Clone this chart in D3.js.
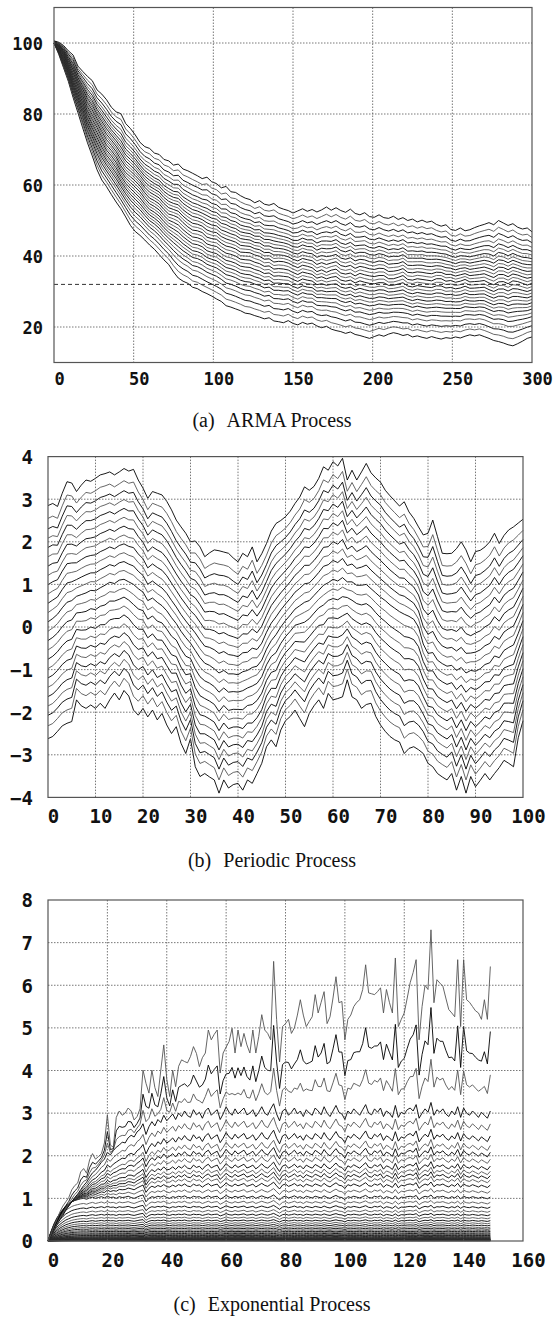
<!DOCTYPE html>
<html>
<head>
<meta charset="utf-8">
<script src="https://cdn.jsdelivr.net/npm/d3@7"></script>
<style>body{margin:0;background:#fff}</style>
</head>
<body>
<svg width="555" height="1318"></svg>
<script>
// Three quantile fans. For each process a few guide lines were traced off the
// picture (outer envelopes and a middle / inner line); the other fan lines sit
// between those guides at the fractions listed in the *Levels / *Pos arrays.

// ---- (a) ARMA process, traced every 3 steps
const armaX = d3.range(0, 301, 3);
const armaUpper = [
  100.6,100.2,99.3,97.8,96.6,93.5,92.0,90.6,89.4,86.8,
  85.6,84.0,81.9,80.6,80.1,77.3,75.9,74.1,72.0,70.8,
  70.3,69.0,68.6,67.2,66.8,65.6,65.9,64.5,64.0,63.3,
  62.6,61.8,62.2,60.9,60.4,59.2,59.6,58.1,57.9,57.0,
  56.3,55.9,55.0,55.6,54.6,54.3,54.8,53.7,53.2,52.8,
  52.1,52.7,53.3,52.6,53.1,52.4,53.0,53.8,52.9,53.6,
  52.8,52.3,53.2,52.0,51.6,52.2,51.1,50.9,51.6,50.8,
  50.6,51.2,50.3,50.8,50.0,50.4,49.6,50.1,49.5,49.8,
  48.9,48.4,48.8,47.5,47.2,47.9,47.1,47.4,48.0,48.5,
  48.9,49.4,48.8,50.0,49.3,48.6,49.1,48.1,47.6,47.9,
  46.8];
const armaMid = [
  100.0,98.6,96.6,93.5,90.2,87.3,84.3,80.9,78.5,76.2,
  73.6,71.2,69.7,67.9,65.4,63.5,62.3,61.1,59.7,57.8,
  56.3,55.6,54.7,53.1,51.8,51.4,50.8,49.4,48.2,47.3,
  47.1,46.6,45.3,44.9,44.7,43.6,42.8,42.5,42.0,41.1,
  41.0,40.9,40.3,39.9,39.1,39.2,38.3,38.5,38.4,38.0,
  37.3,36.7,37.4,37.1,36.7,35.6,36.1,35.4,36.0,36.3,
  35.2,34.9,35.2,34.4,35.1,34.7,34.4,34.2,34.5,34.5,
  33.6,33.6,34.0,34.5,33.4,33.2,33.6,33.4,33.2,33.0,
  33.6,33.6,32.9,33.1,32.6,32.9,33.4,32.7,32.8,32.9,
  33.1,32.4,31.9,32.7,32.8,32.2,33.0,32.8,32.3,31.8,
  32.3];
const armaLower = [
  100.0,96.8,93.0,89.2,84.6,80.4,76.1,71.9,68.2,64.3,
  61.4,59.5,57.3,55.2,53.3,51.0,48.6,46.9,45.8,44.5,
  43.1,41.9,40.4,38.9,37.6,35.5,33.8,32.9,32.3,31.2,
  30.8,30.0,29.4,28.7,27.9,27.2,26.0,25.6,25.1,24.6,
  23.9,23.7,23.2,22.8,22.3,22.6,21.7,21.5,21.2,21.8,
  21.0,20.6,21.3,20.8,21.1,20.3,19.8,20.2,19.4,19.0,
  18.7,18.2,18.6,17.9,17.6,17.2,16.8,17.3,17.8,17.4,
  18.0,18.4,18.1,17.6,17.9,17.2,17.5,17.1,16.8,17.3,
  16.9,16.6,17.0,16.8,17.2,16.9,17.4,17.8,17.5,17.8,
  17.3,16.8,16.2,15.9,15.5,15.0,14.7,15.3,16.0,16.8,
  17.2];
// -1 = lower guide, 0 = middle guide, 1 = upper guide
const armaLevels = [-1,-0.89,-0.79,-0.7,-0.62,-0.55,-0.48,-0.42,-0.36,-0.3,-0.24,-0.18,-0.12,-0.06,
  0,0.06,0.12,0.18,0.24,0.3,0.36,0.42,0.48,0.55,0.62,0.7,0.79,0.89,1];
const armaXTicks = [0,50,100,150,200,250,300];
const armaYTicks = [20,40,60,80,100];
const armaRefLevel = 32;

// ---- (b) periodic process, every step
const periodicX = d3.range(0, 101);
const periodicUpper = [
  2.85,2.9,2.83,3.14,3.41,3.38,3.18,3.33,3.45,3.42,
  3.49,3.57,3.6,3.64,3.57,3.64,3.72,3.66,3.7,3.45,
  3.26,3.02,3.18,3.14,3.1,2.95,2.75,2.51,2.35,2.2,
  2.0,2.02,1.88,1.65,1.74,1.81,1.79,1.76,1.73,1.62,
  1.53,1.73,1.65,1.88,1.53,1.72,1.96,2.25,2.43,2.5,
  2.59,2.72,2.9,3.05,3.29,3.21,3.3,3.49,3.76,3.68,
  3.88,3.78,3.96,3.45,3.68,3.45,3.64,3.84,3.62,3.5,
  3.4,3.21,3.08,2.96,2.84,2.94,2.7,2.55,2.35,2.16,
  2.2,2.51,2.12,1.73,1.72,1.73,1.84,2.0,1.81,1.53,
  1.77,1.8,1.88,2.0,2.2,1.96,2.15,2.28,2.35,2.44,
  2.53];
const periodicMid = [
  0.12,0.2,0.3,0.45,0.58,0.62,0.72,0.76,0.8,0.86,
  0.85,0.92,0.98,1.05,1.02,1.1,1.12,1.06,1.0,0.9,
  0.82,0.62,0.68,0.58,0.5,0.38,0.22,0.08,-0.1,-0.25,
  -0.38,-0.55,-0.72,-0.85,-0.9,-0.98,-1.08,-1.02,-1.1,-1.1,
  -1.12,-1.05,-1.02,-0.95,-0.92,-0.78,-0.52,-0.32,-0.18,0.0,
  0.15,0.28,0.42,0.5,0.58,0.62,0.74,0.86,0.98,1.04,
  1.12,1.08,1.16,1.06,1.06,0.98,0.98,1.0,0.9,0.8,
  0.7,0.62,0.52,0.44,0.36,0.3,0.25,0.18,0.0,-0.4,
  -0.62,-0.6,-0.78,-0.86,-0.92,-0.9,-1.02,-0.95,-1.08,-1.02,
  -1.04,-0.98,-0.88,-0.84,-0.68,-0.72,-0.55,-0.48,-0.42,-0.15,
  0.15];
const periodicLower = [
  -2.62,-2.57,-2.45,-2.32,-2.26,-2.22,-1.71,-1.85,-1.91,-1.83,
  -1.91,-1.79,-1.91,-1.71,-1.55,-1.71,-1.49,-1.62,-1.95,-2.07,
  -1.91,-2.11,-1.95,-2.18,-2.03,-2.3,-2.5,-2.34,-2.73,-2.97,
  -2.62,-3.28,-3.51,-3.44,-3.52,-3.59,-3.9,-3.59,-3.78,-3.7,
  -3.67,-3.83,-3.59,-3.67,-3.44,-3.2,-2.81,-2.65,-2.81,-2.42,
  -2.2,-2.1,-1.95,-2.15,-2.34,-2.03,-1.85,-1.71,-1.91,-1.56,
  -1.71,-1.68,-1.64,-1.24,-1.64,-1.71,-1.91,-1.82,-1.79,-2.1,
  -2.3,-2.45,-2.57,-2.65,-2.7,-2.97,-2.85,-2.81,-2.88,-2.97,
  -3.2,-3.28,-3.44,-3.52,-3.59,-3.44,-3.83,-3.51,-3.9,-3.51,
  -3.75,-3.6,-3.44,-3.59,-3.44,-3.3,-3.13,-3.2,-3.28,-2.6,
  -2.2];
const periodicLevels = [-1,-0.89,-0.8,-0.72,-0.64,-0.56,-0.48,-0.4,-0.32,-0.24,-0.16,-0.08,
  0,0.08,0.16,0.24,0.32,0.4,0.48,0.56,0.64,0.72,0.8,0.89,1];
const periodicXTicks = [0,10,20,30,40,50,60,70,80,90,100];
const periodicYTicks = [-4,-3,-2,-1,0,1,2,3,4];

// ---- (c) exponential process, every step
const expX = d3.range(0, 150);
const expTop = [
  0.0,0.15,0.35,0.5,0.68,0.82,0.92,1.02,1.2,1.3,
  1.36,1.62,1.7,1.59,1.9,2.05,1.92,1.98,2.05,2.3,
  2.96,2.25,2.2,2.9,3.05,2.95,3.0,3.12,3.05,2.84,
  2.92,3.1,4.01,3.7,3.47,4.01,3.6,3.39,4.01,4.6,
  3.8,3.39,4.01,3.62,4.1,4.25,4.21,4.18,4.33,4.56,
  4.4,4.09,4.3,4.41,4.95,4.72,4.85,4.95,3.94,4.41,
  4.55,4.68,4.99,4.41,4.95,4.56,4.87,4.6,4.41,4.95,
  4.41,4.8,5.31,4.95,4.87,4.72,6.56,5.2,4.2,5.03,
  5.1,5.2,4.87,5.0,5.3,5.66,5.3,5.03,5.15,5.26,
  5.78,5.35,5.6,5.85,5.1,5.26,5.7,6.2,5.59,5.62,
  4.72,5.2,5.3,5.5,5.6,5.66,5.9,6.48,5.82,5.8,
  5.78,5.85,5.94,5.35,5.9,5.6,5.35,6.64,5.03,5.2,
  5.35,5.7,6.06,6.3,6.6,4.72,5.5,6.0,5.9,7.3,
  5.59,6.13,6.05,5.98,5.7,5.43,5.35,5.26,6.6,5.03,
  6.6,5.66,5.6,5.5,5.4,5.35,5.2,5.66,5.2,6.44];
const expThree = [
  0,0.12,0.25,0.38,0.5,0.6,0.72,0.82,0.92,1.02,
  1.1,1.2,1.3,1.38,1.5,1.6,1.66,1.75,1.85,1.92,
  2.08,2.02,2.12,2.2,2.25,2.32,2.3,2.42,2.48,2.44,
  2.56,2.62,2.75,2.5,2.68,2.8,2.7,2.85,2.78,2.95,
  2.82,2.9,2.98,2.85,3.0,2.92,3.05,2.94,2.9,3.08,
  2.96,3.02,2.88,3.05,3.12,2.95,3.02,3.08,2.85,2.98,
  3.15,3.02,2.95,3.1,2.98,3.05,3.12,2.96,3.0,3.08,
  2.92,3.02,3.15,3.0,2.95,3.1,3.22,2.98,2.82,3.05,
  3.1,2.95,3.02,3.12,2.98,3.05,2.92,3.08,3.0,2.95,
  3.12,3.05,2.96,3.15,3.0,2.92,3.05,3.18,3.02,2.98,
  2.85,3.05,2.98,3.1,3.02,2.95,3.08,3.2,3.0,2.96,
  3.1,3.02,3.12,2.92,3.05,3.0,2.9,3.18,2.9,3.02,
  2.98,3.08,3.12,3.05,3.2,2.88,3.0,3.1,3.02,3.25,
  2.95,3.08,3.02,3.1,2.98,2.92,3.05,2.96,3.15,2.9,
  3.12,3.0,2.95,3.05,2.98,2.9,3.02,2.95,2.88,3.05];
const expOne = [
  0,0.22,0.4,0.54,0.65,0.74,0.82,0.87,0.92,0.95,
  0.97,0.99,1.0,0.98,1.01,1.03,1.0,1.02,1.04,1.01,
  1.05,1.02,1.03,1.0,1.04,1.02,1.03,1.05,1.02,1.0,
  1.03,1.06,1.08,0.92,1.0,1.04,1.02,1.05,1.03,1.06,
  1.02,1.0,1.04,1.02,1.05,1.03,1.06,1.02,1.01,1.05,
  1.03,1.04,1.0,1.03,1.06,1.02,1.04,1.05,0.98,1.02,
  1.07,1.03,1.01,1.05,1.02,1.04,1.06,1.01,1.03,1.05,
  1.0,1.03,1.06,1.03,1.01,1.04,1.08,1.02,0.96,1.03,
  1.05,1.01,1.03,1.06,1.02,1.04,1.0,1.05,1.03,1.01,
  1.05,1.03,1.01,1.06,1.02,1.0,1.04,1.07,1.03,1.02,
  0.97,1.04,1.02,1.05,1.03,1.01,1.04,1.07,1.02,1.01,
  1.05,1.03,1.06,0.99,1.04,1.02,0.99,1.06,0.98,1.03,
  1.02,1.04,1.05,1.03,1.07,0.97,1.02,1.05,1.03,1.08,
  1.0,1.04,1.03,1.05,1.02,1.0,1.04,1.01,1.06,0.99,
  1.05,1.02,1.01,1.04,1.02,1.0,1.03,1.01,0.99,1.03];
// 0..1 between zero and expOne, 1..2 between expOne and expThree, 2..3 up to expTop
const expPos = [0.004,0.007,0.01,0.013,0.016,0.019,0.022,0.025,0.028,0.032,0.036,0.041,0.047,
  0.053,0.06,0.068,0.078,0.088,0.1,0.114,0.129,0.147,0.167,0.19,0.216,0.245,0.279,0.316,
  0.36,0.409,0.464,0.528,0.6,0.681,0.774,0.88,1,1.07,1.14,1.2,1.25,1.3,1.36,1.44,1.52,
  1.6,1.71,1.85,2,2.25,2.55,3];
const expXTicks = [0,20,40,60,80,100,120,140,160];
const expYTicks = [0,1,2,3,4,5,6,7,8];

// ---------------------------------------------------------------------------
function fan(xs, lower, mid, upper, levels) {
  return levels.map(f => xs.map((x, i) =>
    [x, f < 0 ? mid[i] + (-f) * (lower[i] - mid[i]) : mid[i] + f * (upper[i] - mid[i])]));
}

function between(xs, guides, pos) {
  return pos.map(p => {
    const k = Math.min(Math.floor(p), guides.length - 2), t = p - k;
    return xs.map((x, i) => [x, guides[k][i] + t * (guides[k + 1][i] - guides[k][i])]);
  });
}

const svg = d3.select("svg");
const mono = "'DejaVu Sans Mono', 'Liberation Mono', monospace";

function drawPanel(p) {
  const x = d3.scaleLinear().domain(p.xDomain).range([p.left, p.right]);
  const y = d3.scaleLinear().domain(p.yDomain).range([p.bottom, p.top]);
  const g = svg.append("g");
  const line = d3.line().x(d => x(d[0])).y(d => y(d[1]));

  g.append("g")
    .attr("fill", "none")
    .attr("stroke-width", 0.9)
    .attr("stroke-linejoin", "round")
    .selectAll("path")
    .data(p.lines)
    .join("path")
    .attr("stroke", (d, i) => i % 2 ? "#555" : "#000")
    .attr("d", line);

  // dotted grid
  const inner = (t, dom) => t > dom[0] && t < dom[1];
  const grid = g.append("g")
    .attr("stroke", "#555")
    .attr("stroke-width", 0.8)
    .attr("stroke-dasharray", "1.5,1.5");
  grid.selectAll(".gx")
    .data(p.xTicks.filter(t => inner(t, p.xDomain)))
    .join("line")
    .attr("x1", d => x(d)).attr("x2", d => x(d))
    .attr("y1", p.top).attr("y2", p.bottom);
  grid.selectAll(".gy")
    .data(p.yTicks.filter(t => inner(t, p.yDomain)))
    .join("line")
    .attr("x1", p.left).attr("x2", p.right)
    .attr("y1", d => y(d)).attr("y2", d => y(d));

  if (p.refLevel != null) {
    g.append("line")
      .attr("x1", p.left).attr("x2", p.right)
      .attr("y1", y(p.refLevel)).attr("y2", y(p.refLevel))
      .attr("stroke", "#333")
      .attr("stroke-dasharray", "4,3");
  }

  g.append("rect")
    .attr("x", p.left).attr("y", p.top)
    .attr("width", p.right - p.left).attr("height", p.bottom - p.top)
    .attr("fill", "none")
    .attr("stroke", "#555")
    .attr("stroke-width", 1.2);

  const ax = g.append("g")
    .attr("transform", `translate(0,${p.xLabelY})`)
    .call(d3.axisBottom(x).tickValues(p.xTicks).tickSize(0).tickFormat(d3.format("d")));
  ax.select(".domain").remove();
  ax.selectAll("text").attr("y", 0).attr("dy", 0).attr("dx", p.xLabelDx);

  const ay = g.append("g")
    .attr("transform", `translate(${p.yLabelX},0)`)
    .call(d3.axisLeft(y).tickValues(p.yTicks).tickSize(0).tickPadding(0).tickFormat(d3.format("d")));
  ay.select(".domain").remove();
  ay.selectAll("text").attr("dy", "0.36em");

  [ax, ay].forEach(a => a
    .attr("font-family", mono)
    .attr("font-size", p.fontSize)
    .attr("font-weight", "bold")
    .selectAll("text").attr("fill", "#111"));

  const cap = svg.append("text")
    .attr("x", 272).attr("y", p.captionY)
    .attr("text-anchor", "middle")
    .attr("font-family", "'Liberation Serif', 'Times New Roman', serif")
    .attr("font-size", 20)
    .attr("fill", "#111");
  cap.append("tspan").text(p.tag);
  cap.append("tspan").attr("dx", 12).text(p.title);
}

drawPanel({
  left: 54, right: 532, top: 7.5, bottom: 362.5,
  xDomain: [0, 300], yDomain: [10, 110],
  xTicks: armaXTicks, yTicks: armaYTicks, refLevel: armaRefLevel,
  lines: fan(armaX, armaLower, armaMid, armaUpper, armaLevels),
  xLabelY: 385, xLabelDx: 5, yLabelX: 43, fontSize: 17,
  captionY: 427, tag: "(a)", title: "ARMA Process"
});

drawPanel({
  left: 48, right: 523, top: 456.6, bottom: 797.4,
  xDomain: [0, 100], yDomain: [-4, 4],
  xTicks: periodicXTicks, yTicks: periodicYTicks,
  lines: fan(periodicX, periodicLower, periodicMid, periodicUpper, periodicLevels),
  xLabelY: 823, xLabelDx: 5, yLabelX: 33, fontSize: 19,
  captionY: 867, tag: "(b)", title: "Periodic Process"
});

drawPanel({
  left: 48, right: 523, top: 900, bottom: 1241,
  xDomain: [0, 160], yDomain: [0, 8],
  xTicks: expXTicks, yTicks: expYTicks,
  lines: between(expX, [expX.map(() => 0), expOne, expThree, expTop], expPos),
  xLabelY: 1267, xLabelDx: 5, yLabelX: 33, fontSize: 19,
  captionY: 1311, tag: "(c)", title: "Exponential Process"
});
</script>
</body>
</html>
